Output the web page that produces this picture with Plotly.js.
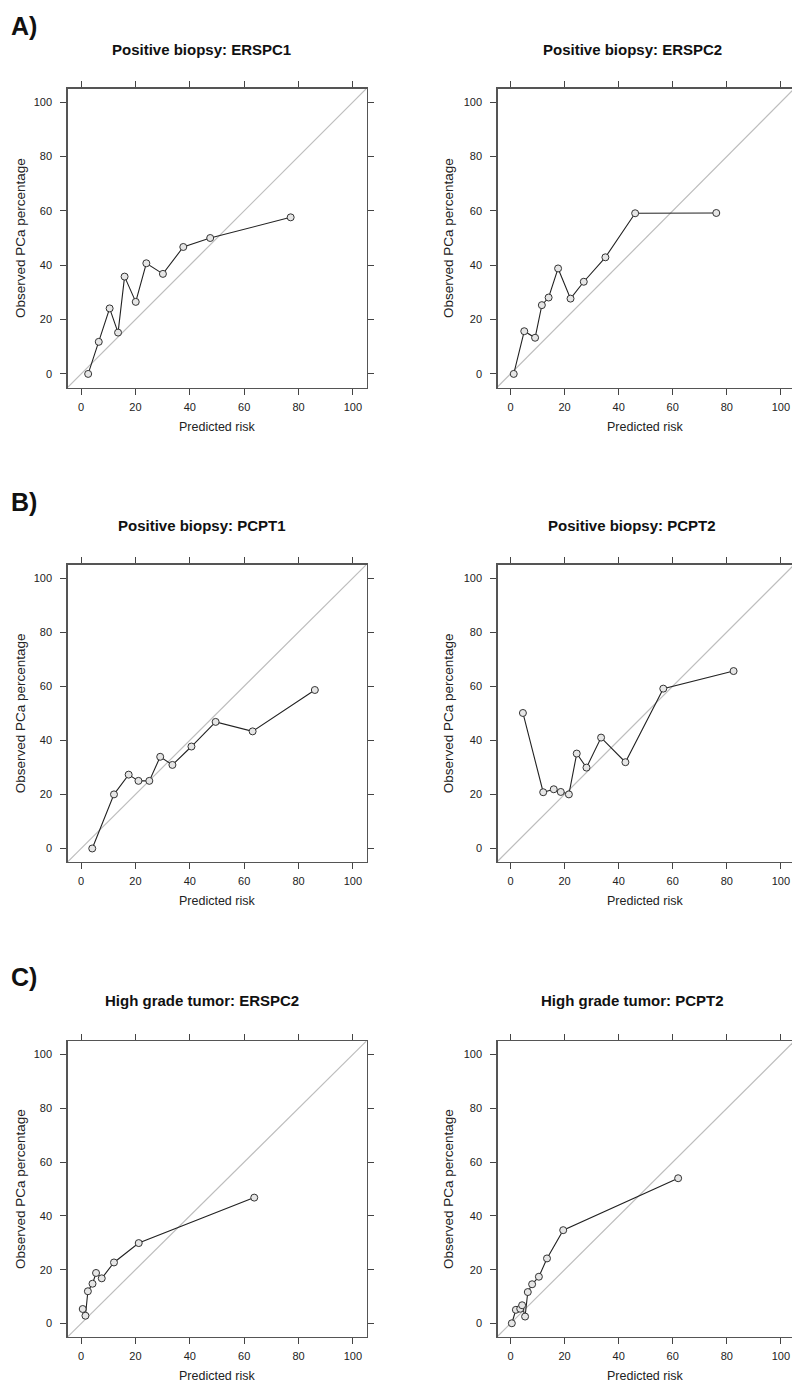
<!DOCTYPE html>
<html>
<head>
<meta charset="utf-8">
<script src="https://cdn.plot.ly/plotly-3.0.1.min.js"></script>
<style>html,body{margin:0;padding:0;background:#fff;}#chart{width:792px;height:1385px;}</style>
</head>
<body>
<div id="chart"></div>
<script>
// ---- data ----
const tickValues = [0, 20, 40, 60, 80, 100];
const tickLabels = ['0', '20', '40', '60', '80', '100'];
const diagonal = [-10, 110];

const panelLabels = ['A)', 'B)', 'C)'];
const panelTitles = ['Positive biopsy: ERSPC1', 'Positive biopsy: ERSPC2',
                     'Positive biopsy: PCPT1', 'Positive biopsy: PCPT2',
                     'High grade tumor: ERSPC2', 'High grade tumor: PCPT2'];
const xTitle = 'Predicted risk';
const yTitle = 'Observed PCa percentage';

const predErspc1 = [2.6, 6.5, 10.5, 13.6, 16.0, 20.1, 24.0, 30.1, 37.6, 47.5, 77.1];
const obsErspc1  = [0, 11.8, 24.1, 15.2, 35.8, 26.5, 40.7, 36.8, 46.7, 50.0, 57.6];
const predErspc2 = [1.2, 5.1, 9.1, 11.6, 14.1, 17.6, 22.2, 27.1, 35.1, 46.1, 76.1];
const obsErspc2  = [0, 15.7, 13.3, 25.3, 28.1, 38.8, 27.7, 33.9, 42.9, 59.1, 59.2];
const predPcpt1  = [4.1, 12.1, 17.5, 21.1, 25.1, 29.1, 33.6, 40.6, 49.5, 63.1, 86.0];
const obsPcpt1   = [0, 20.0, 27.3, 25.0, 25.0, 33.9, 30.9, 37.7, 46.8, 43.3, 58.6];
const predPcpt2  = [4.6, 12.1, 16.0, 18.6, 21.6, 24.5, 28.1, 33.5, 42.5, 56.5, 82.5];
const obsPcpt2   = [50.1, 20.8, 21.9, 20.9, 20.0, 35.1, 29.9, 41.0, 31.9, 59.1, 65.6];
const predHgErspc2 = [0.6, 1.6, 2.5, 4.2, 5.5, 7.6, 12.1, 21.2, 63.7];
const obsHgErspc2  = [5.4, 2.9, 12.0, 14.8, 18.8, 16.8, 22.7, 29.9, 46.8];
const predHgPcpt2  = [0.5, 2.0, 3.6, 4.3, 5.4, 6.4, 8.0, 10.5, 13.5, 19.5, 62.0];
const obsHgPcpt2   = [0.1, 5.1, 5.5, 6.8, 2.6, 11.7, 14.6, 17.4, 24.2, 34.7, 54.0];

const seriesX = [predErspc1, predErspc2, predPcpt1, predPcpt2, predHgErspc2, predHgPcpt2];
const seriesY = [obsErspc1, obsErspc2, obsPcpt1, obsPcpt2, obsHgErspc2, obsHgPcpt2];

// ---- layout geometry (pixels) ----
const W = 792, H = 1385;
const px = v => v / W;
const py = v => 1 - v / H;
const cols = [{x0: 67.5, x1: 366.5, range: [-5, 105], mirrorY: 'ticks', titleX: 202, yTitleX: 20, xTitleX: 217},
              {x0: 497.5, x1: 792, range: [-4.8, 104.1], mirrorY: false, titleX: 632, yTitleX: 448, xTitleX: 645}];
const rows = [{y0: 88.5, y1: 387.5, labelY: 26, titleY: 50, xTitleY: 427},
              {y0: 564.5, y1: 862, labelY: 502, titleY: 525, xTitleY: 901},
              {y0: 1041, y1: 1337, labelY: 977, titleY: 1001, xTitleY: 1376}];

const FONT = 'Liberation Sans, Arial, Helvetica, sans-serif';
const data = [];
const layout = {
  width: W, height: H,
  margin: {l: 0, r: 0, t: 0, b: 0},
  paper_bgcolor: '#fff', plot_bgcolor: '#fff',
  showlegend: false,
  font: {family: FONT, color: '#222'},
  annotations: []
};

for (let r = 0; r < 3; r++) {
  const row = rows[r];
  layout.annotations.push({xref: 'paper', yref: 'paper', x: px(9), y: py(row.labelY),
    xanchor: 'left', yanchor: 'middle', text: '<b>' + panelLabels[r] + '</b>', showarrow: false,
    font: {family: FONT, size: 25, color: '#111'}});
  for (let c = 0; c < 2; c++) {
    const col = cols[c];
    const i = r * 2 + c;
    const n = i + 1;
    const xk = n === 1 ? 'x' : 'x' + n, yk = n === 1 ? 'y' : 'y' + n;
    const xa = n === 1 ? 'xaxis' : 'xaxis' + n, ya = n === 1 ? 'yaxis' : 'yaxis' + n;
    const common = {
      tickmode: 'array', tickvals: tickValues, ticktext: tickLabels,
      ticks: 'outside', ticklen: 6, tickwidth: 1, tickcolor: '#444',
      showline: true, linecolor: '#555', linewidth: 1.2,
      showgrid: false, zeroline: false, fixedrange: true,
      tickfont: {family: FONT, size: 11, color: '#222'}
    };
    layout[xa] = Object.assign({}, common, {
      domain: [px(col.x0), px(col.x1)], range: col.range, anchor: yk, mirror: 'ticks',
      ticklabelstandoff: 3
    });
    layout[ya] = Object.assign({}, common, {
      domain: [py(row.y1), py(row.y0)], range: [-5, 105], anchor: xk, mirror: col.mirrorY,
      ticklabelstandoff: 6
    });
    data.push({x: diagonal, y: diagonal, xaxis: xk, yaxis: yk, mode: 'lines',
      line: {color: '#bdbdbd', width: 1.2}, hoverinfo: 'skip'});
    data.push({x: seriesX[i], y: seriesY[i], xaxis: xk, yaxis: yk, mode: 'lines+markers',
      line: {color: '#222', width: 1.1},
      marker: {symbol: 'circle', size: 7, color: '#e6e6e6', line: {color: '#333', width: 1}}});
    layout.annotations.push({xref: 'paper', yref: 'paper', x: px(col.titleX), y: py(row.titleY),
      xanchor: 'center', yanchor: 'middle', text: '<b>' + panelTitles[i] + '</b>', showarrow: false,
      font: {family: FONT, size: 15, color: '#111'}});
    layout.annotations.push({xref: 'paper', yref: 'paper', x: px(col.xTitleX), y: py(row.xTitleY),
      xanchor: 'center', yanchor: 'middle', text: xTitle, showarrow: false,
      font: {family: FONT, size: 12.5, color: '#222'}});
    layout.annotations.push({xref: 'paper', yref: 'paper', x: px(col.yTitleX), y: py((row.y0 + row.y1) / 2),
      xanchor: 'center', yanchor: 'middle', text: yTitle, textangle: -90, showarrow: false,
      font: {family: FONT, size: 13.5, color: '#222'}});
  }
}

Plotly.newPlot('chart', data, layout, {staticPlot: true, displayModeBar: false});
</script>
</body>
</html>
